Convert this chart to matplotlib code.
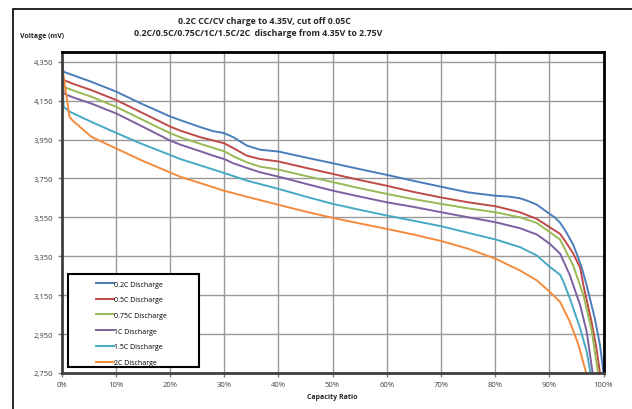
import matplotlib
matplotlib.use('Agg')
import matplotlib.pyplot as plt
from matplotlib.patches import Rectangle
from matplotlib.ticker import FuncFormatter

plt.rcParams['font.family'] = ['Open Sans', 'DejaVu Sans']

# discharge curves: capacity ratio (%) and voltage (mV)
labels = ['0.2C Discharge', '0.5C Discharge', '0.75C Discharge',
          '1C Discharge', '1.5C Discharge', '2C Discharge']
colors = ['#4A7EBB', '#BE4B48', '#98B954', '#7D60A0', '#46AAC5', '#F38B3C']

x_02 = [0, 0.4, 2, 5.5, 10.1, 14.7, 20.1, 21.9, 25.6, 28.0, 30.0, 31.7, 34.2, 36.6, 40.1,
        45, 50.1, 55, 60.1, 64.9, 70.1, 75.1, 80.1, 82.5, 84.6, 86, 87.7, 90.1, 91, 92,
        93, 94.4, 95.1, 96.0, 96.9, 97.7, 98.4, 99.35, 100]
v_02 = [4350, 4298, 4282, 4247, 4196, 4135, 4068, 4050, 4014, 3993, 3983, 3962, 3919, 3898, 3888,
        3858, 3828, 3798, 3768, 3738, 3707, 3678, 3661, 3657, 3648, 3635, 3615, 3567, 3550, 3522,
        3480, 3410, 3360, 3290, 3200, 3110, 3030, 2894, 2750]

x_05 = [0, 0.4, 2, 5.5, 10.1, 14.7, 20.1, 21.9, 25.6, 28.0, 30.0, 31.7, 34.2, 36.6, 40.1,
        45, 50.1, 55, 60.1, 64.9, 70.1, 75.1, 80.1, 84.6, 87.7, 90.1, 92.0, 93.0, 94.4,
        95.7, 96.3, 97.8, 98.7, 99.35]
v_05 = [4350, 4256, 4238, 4204, 4153, 4090, 4016, 3996, 3962, 3945, 3931, 3906, 3867, 3850, 3837,
        3805, 3773, 3742, 3712, 3681, 3652, 3627, 3607, 3576, 3542, 3499, 3465, 3425, 3365,
        3290, 3200, 3013, 2877, 2750]

x_075 = [0, 0.4, 2, 5.5, 10.1, 14.7, 20.1, 21.9, 25.6, 28.0, 30.0, 31.7, 34.2, 36.6, 40.1,
         45, 50.1, 55, 60.1, 64.9, 70.1, 75.1, 80.1, 84.6, 87.7, 90.1, 92.0, 94.4, 96.3,
         97.8, 99.0]
v_075 = [4350, 4221, 4204, 4170, 4118, 4055, 3982, 3962, 3928, 3907, 3890, 3864, 3833, 3811, 3795,
         3763, 3731, 3700, 3670, 3644, 3619, 3596, 3576, 3550, 3521, 3474, 3435, 3303, 3150,
         2971, 2750]

x_1 = [0, 0.4, 2, 5.5, 10.1, 14.7, 20.1, 21.9, 25.6, 28.0, 30.0, 31.7, 34.2, 36.6, 40.1,
       45, 50.1, 55, 60.1, 64.9, 70.1, 75.1, 80.1, 84.6, 87.7, 90.1, 92.0, 93.8, 95.7,
       96.9, 98.0]
v_1 = [4350, 4187, 4168, 4135, 4084, 4020, 3944, 3924, 3890, 3867, 3850, 3828, 3804, 3782, 3759,
       3723, 3687, 3657, 3627, 3604, 3576, 3550, 3525, 3494, 3462, 3414, 3363, 3252, 3098,
       2962, 2750]

x_15 = [0, 0.4, 1.6, 5.5, 10.1, 14.7, 20.1, 21.9, 30.0, 34.2, 40.1, 45, 50.1, 55, 60.1,
        64.9, 70.1, 75.1, 80.1, 84.6, 87.7, 90.1, 92.0, 92.6, 93.8, 95.7, 96.9, 97.6]
v_15 = [4350, 4118, 4092, 4041, 3984, 3929, 3870, 3850, 3778, 3739, 3696, 3657, 3619, 3589, 3559,
        3533, 3504, 3470, 3436, 3397, 3354, 3295, 3255, 3220, 3133, 2979, 2860, 2750]

x_2 = [0, 1.5, 2.3, 3.0, 5.5, 10.1, 14.7, 20.1, 21.9, 30.0, 34.2, 40.1, 45, 50.1, 55, 60.1,
       64.9, 70.1, 75.1, 80.1, 84.6, 87.7, 90.1, 92.0, 93.8, 95.4, 96.8]
v_2 = [4345, 4065, 4041, 4025, 3964, 3904, 3844, 3780, 3759, 3687, 3656, 3614, 3580, 3547, 3519, 3490,
       3462, 3428, 3388, 3337, 3277, 3226, 3167, 3115, 3013, 2894, 2750]

series = [(x_02, v_02), (x_05, v_05), (x_075, v_075), (x_1, v_1), (x_15, v_15), (x_2, v_2)]
y_ticks = list(range(2750, 4351, 200))
x_ticks = list(range(0, 101, 10))

W, H = 632, 410
fig = plt.figure(figsize=(W / 100, H / 100), dpi=100)
ax = fig.add_axes([61.5 / W, 36 / H, 542 / W, 321 / H])

for (xs, vs), lab, col in zip(series, labels, colors):
    ax.plot(xs, vs, color=col, lw=1.4, label=lab, solid_joinstyle='round')

ax.set_xlim(0, 100)
ax.set_ylim(2750, 4400)
ax.set_xticks(x_ticks)
ax.set_yticks(y_ticks)
ax.xaxis.set_major_formatter(FuncFormatter(lambda v, p: '%d%%' % v))
ax.yaxis.set_major_formatter(FuncFormatter(lambda v, p: '{:,}'.format(int(v))))
ax.grid(True, color='#999999', lw=1.0)
ax.set_axisbelow(True)
ax.tick_params(direction='out', length=3, width=1, color='#808080',
               labelsize=5.5, labelcolor='#404040', pad=3)
for s in ['left', 'bottom']:
    ax.spines[s].set_color('#404040')
    ax.spines[s].set_linewidth(2)
for s in ['top', 'right']:
    ax.spines[s].set_color('black')
    ax.spines[s].set_linewidth(2)

# legend box
ax.add_patch(Rectangle((0.0114, 0.0196), 0.2428, 0.2888, transform=ax.transAxes,
                       facecolor='white', edgecolor='black', lw=1.5, zorder=5))
leg = ax.legend(loc='upper left', bbox_to_anchor=(0.063, 0.288), frameon=False,
                fontsize=5, handlelength=2.6, handletextpad=0.0, labelspacing=1.25,
                borderpad=0, borderaxespad=0)
leg.set_zorder(6)

# outer frame
fig.patches.append(Rectangle((12.5 / W, -0.05), 1.0, 1.05 - 9.5 / H, transform=fig.transFigure,
                             fill=False, edgecolor='black', lw=1.2))

fig.text(264 / W, 1 - 21 / H, '0.2C CC/CV charge to 4.35V, cut off 0.05C',
         ha='center', va='center', fontsize=6.3, fontweight='bold', color='#262626')
fig.text(258 / W, 1 - 34 / H, '0.2C/0.5C/0.75C/1C/1.5C/2C  discharge from 4.35V to 2.75V',
         ha='center', va='center', fontsize=6.3, fontweight='bold', color='#262626')
fig.text(42 / W, 1 - 36 / H, 'Voltage (mV)', ha='center', va='center',
         fontsize=5, fontweight='bold', color='#262626')
fig.text(332.5 / W, 1 - 398 / H, 'Capacity Ratio', ha='center', va='center',
         fontsize=5, fontweight='bold', color='#262626')

fig.savefig('out.png', dpi=100)
